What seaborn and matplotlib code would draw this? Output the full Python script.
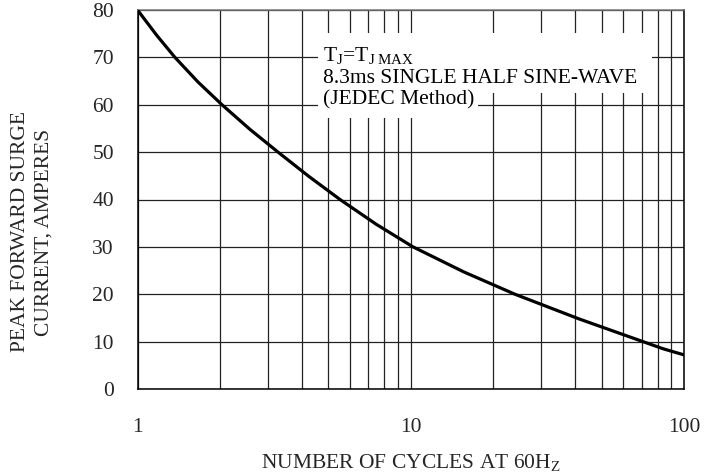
import matplotlib
matplotlib.use("Agg")
import matplotlib.pyplot as plt
import seaborn as sns
import pandas as pd
from matplotlib.patches import Rectangle
from matplotlib.ticker import LogLocator, FixedLocator, NullFormatter

# ---- data ----
cycles = [1.0, 1.178, 1.371, 1.665, 2.038, 2.580, 3.268, 4.243, 5.510,
          7.462, 10.19, 15.66, 24.07, 41.27, 70.79, 83.79, 100.0]
surge_current = [80.0, 74.6, 70.0, 64.8, 60.0, 54.8, 50.0, 44.85, 40.0,
                 34.8, 30.0, 24.7, 20.0, 14.8, 10.0, 8.5, 7.2]
x_ticks = [1, 10, 100]
x_tick_labels = ["1", "10", "100"]
y_ticks = [0, 10, 20, 30, 40, 50, 60, 70, 80]
note_lines = [r"T$_{\mathrm{J}}$=T$_{\mathrm{J\ MAX}}$",
              "8.3ms SINGLE HALF SINE-WAVE",
              "(JEDEC Method)"]
x_label = r"NUMBER OF CYCLES AT 60H$_{\mathrm{Z}}$"
y_label = "PEAK FORWARD SURGE\nCURRENT, AMPERES"

df = pd.DataFrame({"cycles": cycles, "current": surge_current})

sns.set_theme(style="white")
plt.rcParams["font.family"] = ["Liberation Serif", "DejaVu Serif"]
plt.rcParams["mathtext.fontset"] = "custom"
plt.rcParams["mathtext.rm"] = "Liberation Serif"
plt.rcParams["mathtext.it"] = "Liberation Serif:italic"
plt.rcParams["mathtext.bf"] = "Liberation Serif:bold"

FS = 15.5

fig = plt.figure(figsize=(7.10, 4.74), dpi=100)
ax = fig.add_axes([137.5 / 710, 1 - 389 / 474, 546.5 / 710, 379 / 474])

sns.lineplot(data=df, x="cycles", y="current", ax=ax, color="black",
             linewidth=2.3, zorder=4)

ax.set_xscale("log")
ax.set_xlim(1, 100)
ax.set_ylim(0, 80)
ax.xaxis.set_major_locator(FixedLocator(x_ticks))
ax.set_xticklabels(x_tick_labels)
ax.xaxis.set_minor_locator(LogLocator(base=10, subs=[2, 3, 4, 5, 6, 7, 8, 9]))
ax.xaxis.set_minor_formatter(NullFormatter())
ax.set_yticks(y_ticks)

ax.set_axisbelow(True)
ax.grid(True, which="both", axis="x", color="#222222", linewidth=0.9)
ax.grid(True, which="major", axis="y", color="#222222", linewidth=0.9)

ax.tick_params(axis="both", which="both", length=0, labelsize=FS)
ax.tick_params(axis="y", pad=17)
ax.tick_params(axis="x", pad=21)

for side in ["left", "bottom", "right"]:
    ax.spines[side].set_color("black")
    ax.spines[side].set_linewidth(1.1)
ax.spines["top"].set_color("#777777")
ax.spines["top"].set_linewidth(1.1)

ax.set_xlabel(x_label, fontsize=FS, labelpad=11)
ax.set_ylabel("")
fig.text(32 / 710, 1 - 232 / 474, y_label, rotation=90, ha="center",
         va="center", fontsize=FS, multialignment="center", linespacing=1.3)

# white backing behind the note text
ax.add_patch(Rectangle((0.330, 0.781), 0.611, 0.158, transform=ax.transAxes,
                       facecolor="white", edgecolor="none", zorder=2))
ax.add_patch(Rectangle((0.330, 0.715), 0.293, 0.070, transform=ax.transAxes,
                       facecolor="white", edgecolor="none", zorder=2))
note_y = [0.866, 0.807, 0.750]
for txt, yy in zip(note_lines, note_y):
    ax.text(0.339, yy, txt, transform=ax.transAxes, fontsize=FS,
            ha="left", va="baseline", zorder=3, color="black")

fig.savefig("out.png", dpi=100)
